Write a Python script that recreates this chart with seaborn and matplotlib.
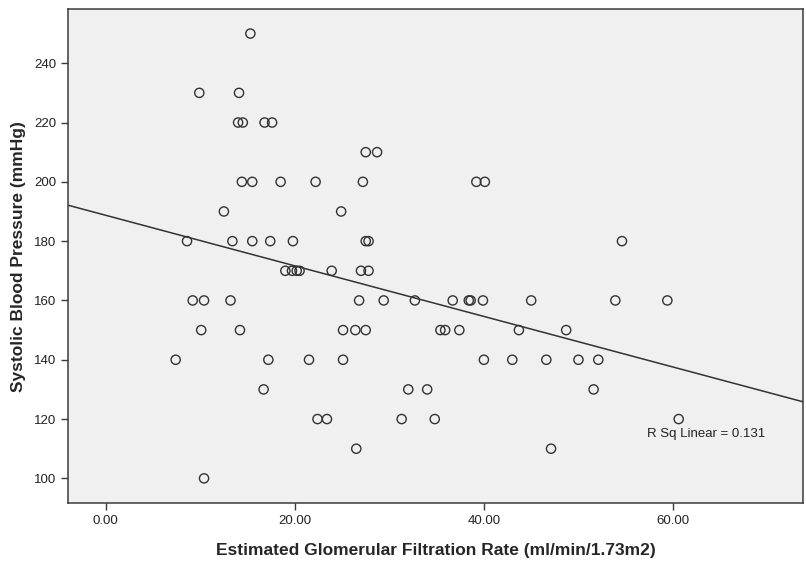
import numpy as np
import pandas as pd
import seaborn as sns
import matplotlib
matplotlib.use("Agg")
from matplotlib import pyplot as plt

# eGFR values, grouped by blood pressure row
egfr_250 = [15.3]
egfr_230 = [9.9, 14.1]
egfr_220 = [14.0, 14.5, 16.8, 17.6]
egfr_210 = [27.5, 28.7]
egfr_200 = [14.4, 15.5, 18.5, 22.2, 27.2, 39.2, 40.1]
egfr_190 = [12.5, 24.9]
egfr_180 = [8.6, 13.4, 15.5, 17.4, 19.8, 27.5, 27.8, 54.6]
egfr_170 = [19.0, 19.7, 20.2, 20.5, 23.9, 27.0, 27.8]
egfr_160 = [9.2, 10.4, 13.2, 26.8, 29.4, 32.7, 36.7, 38.4, 38.6, 39.9, 45.0, 53.9, 59.4]
egfr_150 = [10.1, 14.2, 25.1, 26.4, 27.5, 35.4, 35.9, 37.4, 43.7, 48.7]
egfr_140 = [7.4, 17.2, 21.5, 25.1, 40.0, 43.0, 46.6, 50.0, 52.1]
egfr_130 = [16.7, 32.0, 34.0, 51.6]
egfr_120 = [22.4, 23.4, 31.3, 34.8, 60.6]
egfr_110 = [26.5, 47.1]
egfr_100 = [10.4]

rows = {250: egfr_250, 230: egfr_230, 220: egfr_220, 210: egfr_210,
        200: egfr_200, 190: egfr_190, 180: egfr_180, 170: egfr_170,
        160: egfr_160, 150: egfr_150, 140: egfr_140, 130: egfr_130,
        120: egfr_120, 110: egfr_110, 100: egfr_100}

x_ticks = [0, 20, 40, 60]
y_ticks = [100, 120, 140, 160, 180, 200, 220, 240]
r2_label = "R Sq Linear = 0.131"

egfr = []
sbp = []
for bp, vals in rows.items():
    egfr.extend(vals)
    sbp.extend([bp] * len(vals))
df = pd.DataFrame({"egfr": egfr, "sbp": sbp})

sns.set_style("ticks", {"axes.facecolor": "#f0f0f0", "axes.edgecolor": "#3a3a3a"})
plt.rcParams["font.family"] = ["Liberation Sans", "DejaVu Sans"]

fig = plt.figure(figsize=(8.06, 5.63), dpi=100)
ax = fig.add_axes([0.0847, 0.1066, 0.9116, 0.877])
ax.set_xlim(-3.96, 73.75)
ax.set_ylim(91.7, 258.2)

sns.regplot(data=df, x="egfr", y="sbp", ax=ax, ci=None, truncate=False,
            scatter_kws={"s": 44, "facecolors": "none", "edgecolors": "#333333",
                         "linewidths": 1.0, "alpha": 1},
            line_kws={"color": "#333333", "lw": 1.1})

ax.set_xlim(-3.96, 73.75)
ax.set_ylim(91.7, 258.2)
ax.set_xticks(x_ticks)
ax.set_xticklabels([f"{t:.2f}" for t in x_ticks])
ax.set_yticks(y_ticks)
ax.tick_params(axis="both", length=5, width=1, color="#3a3a3a", labelsize=9.5,
               labelcolor="#222222", direction="out")
for s in ax.spines.values():
    s.set_linewidth(1.1)

ax.set_xlabel("Estimated Glomerular Filtration Rate (ml/min/1.73m2)",
              fontsize=12.5, fontweight="bold", labelpad=12)
ax.set_ylabel("Systolic Blood Pressure (mmHg)", fontsize=12.5,
              fontweight="bold", labelpad=6)

ax.text(57.2, 115.1, r2_label, ha="left", va="center", fontsize=9.5,
        color="#222222")

fig.savefig("out.png", dpi=100)
